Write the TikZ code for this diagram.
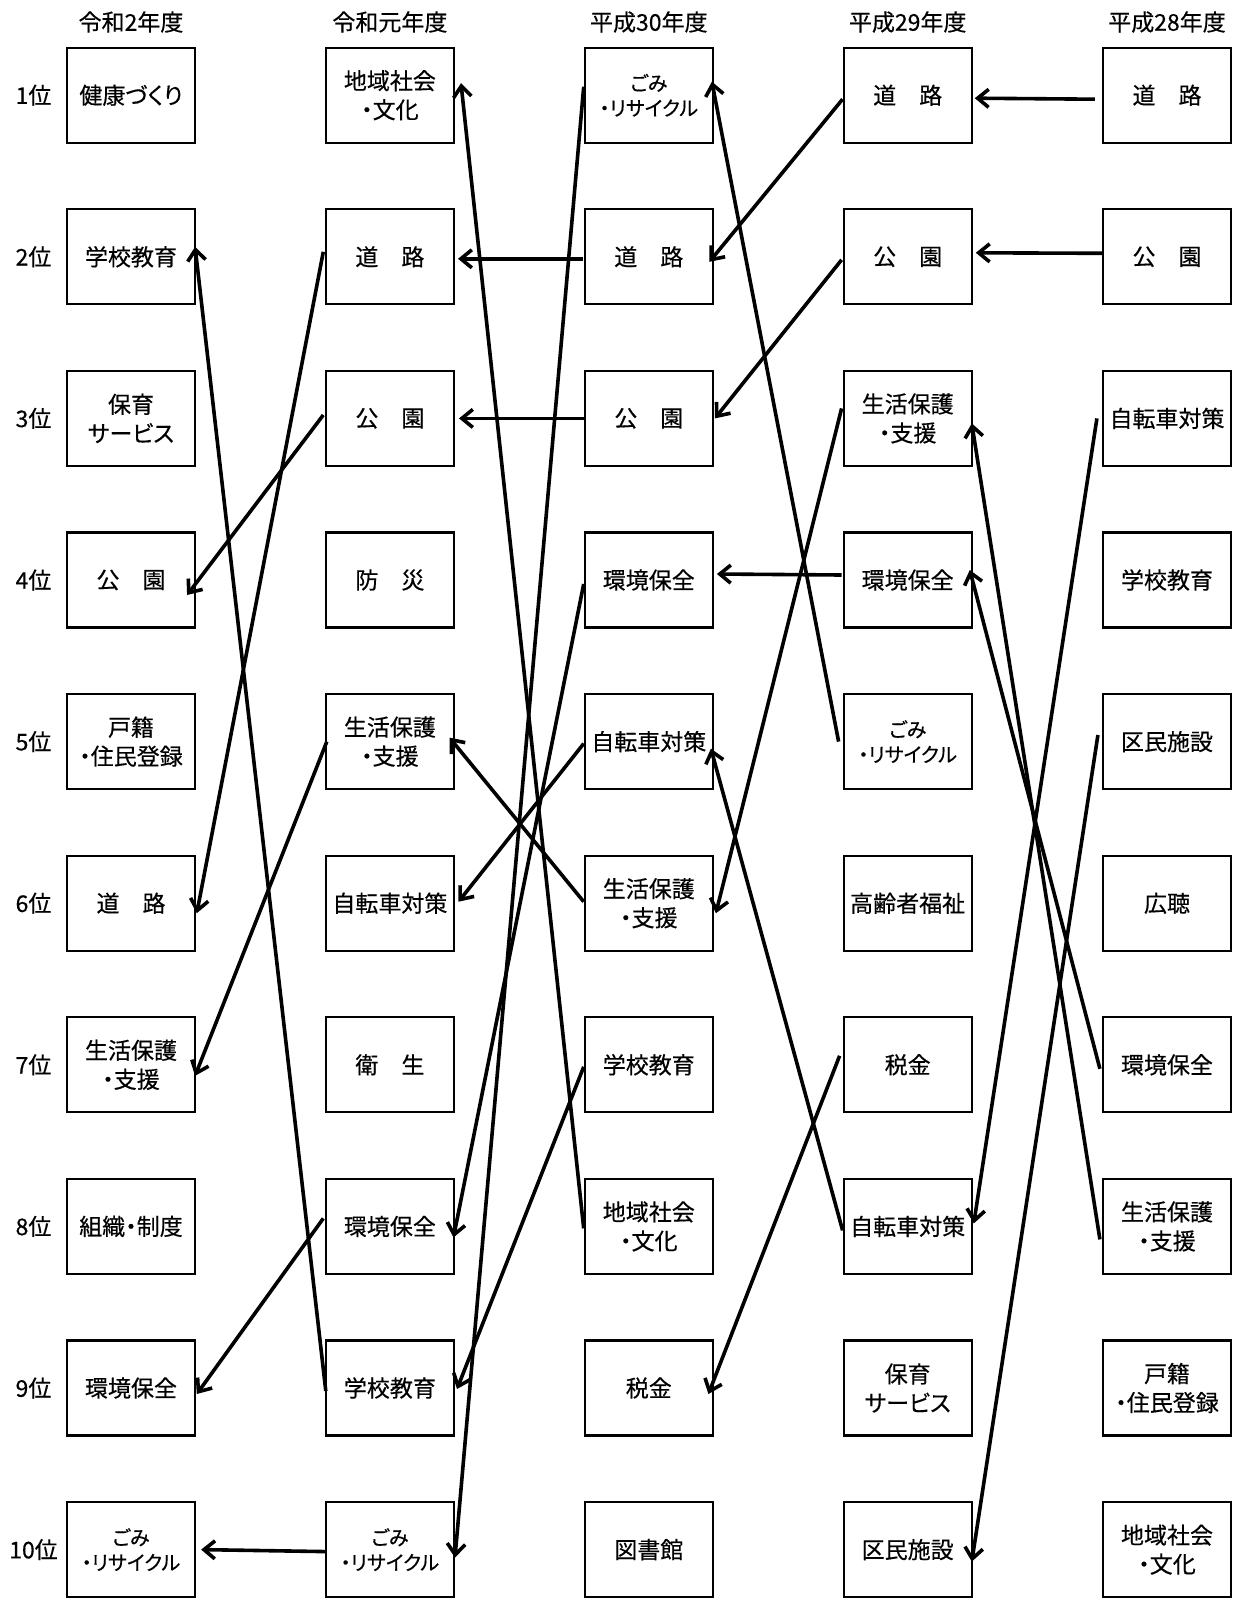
\documentclass[tikz,border=0pt]{standalone}
\usepackage{fontspec}
\setmainfont{Noto Sans CJK JP}[RawFeature=+palt,FakeBold=0.4]
\usetikzlibrary{arrows.meta}
\begin{document}
\begin{tikzpicture}[x=1pt,y=-1pt,
  box/.style={draw, line width=2.2pt, minimum width=128pt, minimum height=95pt, inner sep=0pt, align=center, font=\fontsize{23pt}{29pt}\selectfont},
  smallbox/.style={box, font=\fontsize{20pt}{25pt}\selectfont},
  hdr/.style={font=\fontsize{23pt}{26pt}\selectfont, inner sep=0pt},
  rank/.style={font=\fontsize{23pt}{26pt}\selectfont, inner sep=0pt},
  arr/.style={line width=3.6pt, -{Straight Barb[length=11pt,width=18pt]}}]
\useasboundingbox (0,0) rectangle (1241,1598);
% headers
\node[hdr] (h1) at (131,22) {令和2年度};
\node[hdr] (h2) at (389.9,22) {令和元年度};
\node[hdr] (h3) at (648.8,22) {平成30年度};
\node[hdr] (h4) at (907.7,22) {平成29年度};
\node[hdr] (h5) at (1167,22) {平成28年度};
% ranks
\node[rank] (k1) at (33.5,95.2) {1位};
\node[rank] (k2) at (33.5,256.8) {2位};
\node[rank] (k3) at (33.5,418.4) {3位};
\node[rank] (k4) at (33.5,580.0) {4位};
\node[rank] (k5) at (33.5,741.6) {5位};
\node[rank] (k6) at (33.5,903.2) {6位};
\node[rank] (k7) at (33.5,1064.8) {7位};
\node[rank] (k8) at (33.5,1226.4) {8位};
\node[rank] (k9) at (33.5,1388.0) {9位};
\node[rank] (k10) at (33.5,1549.6) {10位};
% column 1
\node[box] (c1r1) at (131,95.2) {健康づくり};
\node[box] (c1r2) at (131,256.8) {学校教育};
\node[box] (c1r3) at (131,418.4) {保育\\サービス};
\node[box] (c1r4) at (131,580.0) {公　園};
\node[box] (c1r5) at (131,741.6) {戸籍\\・住民登録};
\node[box] (c1r6) at (131,903.2) {道　路};
\node[box] (c1r7) at (131,1064.8) {生活保護\\・支援};
\node[box] (c1r8) at (131,1226.4) {組織・制度};
\node[box] (c1r9) at (131,1388.0) {環境保全};
\node[smallbox] (c1r10) at (131,1549.6) {ごみ\\・リサイクル};
% column 2
\node[box] (c2r1) at (389.9,95.2) {地域社会\\・文化};
\node[box] (c2r2) at (389.9,256.8) {道　路};
\node[box] (c2r3) at (389.9,418.4) {公　園};
\node[box] (c2r4) at (389.9,580.0) {防　災};
\node[box] (c2r5) at (389.9,741.6) {生活保護\\・支援};
\node[box] (c2r6) at (389.9,903.2) {自転車対策};
\node[box] (c2r7) at (389.9,1064.8) {衛　生};
\node[box] (c2r8) at (389.9,1226.4) {環境保全};
\node[box] (c2r9) at (389.9,1388.0) {学校教育};
\node[smallbox] (c2r10) at (389.9,1549.6) {ごみ\\・リサイクル};
% column 3
\node[smallbox] (c3r1) at (648.8,95.2) {ごみ\\・リサイクル};
\node[box] (c3r2) at (648.8,256.8) {道　路};
\node[box] (c3r3) at (648.8,418.4) {公　園};
\node[box] (c3r4) at (648.8,580.0) {環境保全};
\node[box] (c3r5) at (648.8,741.6) {自転車対策};
\node[box] (c3r6) at (648.8,903.2) {生活保護\\・支援};
\node[box] (c3r7) at (648.8,1064.8) {学校教育};
\node[box] (c3r8) at (648.8,1226.4) {地域社会\\・文化};
\node[box] (c3r9) at (648.8,1388.0) {税金};
\node[box] (c3r10) at (648.8,1549.6) {図書館};
% column 4
\node[box] (c4r1) at (907.7,95.2) {道　路};
\node[box] (c4r2) at (907.7,256.8) {公　園};
\node[box] (c4r3) at (907.7,418.4) {生活保護\\・支援};
\node[box] (c4r4) at (907.7,580.0) {環境保全};
\node[smallbox] (c4r5) at (907.7,741.6) {ごみ\\・リサイクル};
\node[box] (c4r6) at (907.7,903.2) {高齢者福祉};
\node[box] (c4r7) at (907.7,1064.8) {税金};
\node[box] (c4r8) at (907.7,1226.4) {自転車対策};
\node[box] (c4r9) at (907.7,1388.0) {保育\\サービス};
\node[box] (c4r10) at (907.7,1549.6) {区民施設};
% column 5
\node[box] (c5r1) at (1167,95.2) {道　路};
\node[box] (c5r2) at (1167,256.8) {公　園};
\node[box] (c5r3) at (1167,418.4) {自転車対策};
\node[box] (c5r4) at (1167,580.0) {学校教育};
\node[box] (c5r5) at (1167,741.6) {区民施設};
\node[box] (c5r6) at (1167,903.2) {広聴};
\node[box] (c5r7) at (1167,1064.8) {環境保全};
\node[box] (c5r8) at (1167,1226.4) {生活保護\\・支援};
\node[box] (c5r9) at (1167,1388.0) {戸籍\\・住民登録};
\node[box] (c5r10) at (1167,1549.6) {地域社会\\・文化};
% H28 -> H29
\draw[arr] ([shift={(-7,4)}]c5r1.west) -- ([shift={(2,3)}]c4r1.east);
\draw[arr] ([shift={(1,-3.5)}]c5r2.west) -- ([shift={(3,-4)}]c4r2.east);
\draw[arr] ([shift={(-5,0)}]c5r3.west) -- ([shift={(1,-3)}]c4r8.east);
\draw[arr] ([shift={(-4,-6.6)}]c5r5.west) -- ([shift={(-1,12)}]c4r10.east);
\draw[arr] ([shift={(-2,4)}]c5r7.west) -- ([shift={(-3,-10)}]c4r4.east);
\draw[arr] ([shift={(-2,13)}]c5r8.west) -- ([shift={(-1,5)}]c4r3.east);
% H29 -> H30
\draw[arr] ([shift={(0,4)}]c4r1.west) -- ([shift={(-4.5,5)}]c3r2.east);
\draw[arr] ([shift={(-1,3)}]c4r2.west) -- ([shift={(1,0)}]c3r3.east);
\draw[arr] ([shift={(-1,-10)}]c4r3.west) -- ([shift={(2,10)}]c3r6.east);
\draw[arr] ([shift={(-1,-5)}]c4r4.west) -- ([shift={(3,-6)}]c3r4.east);
\draw[arr] ([shift={(-4,0)}]c4r5.west) -- ([shift={(-2,-13.5)}]c3r1.east);
\draw[arr] ([shift={(-3,-9)}]c4r7.west) -- ([shift={(-5.5,6)}]c3r9.east);
\draw[arr] ([shift={(0,4)}]c4r8.west) -- ([shift={(-3,7)}]c3r5.east);
% H30 -> R1
\draw[arr] ([shift={(0,-8.5)}]c3r1.west) -- ([shift={(0,8)}]c2r10.east);
\draw[arr] ([shift={(-1,2)}]c3r2.west) -- ([shift={(3,2)}]c2r2.east);
\draw[arr] ([shift={(0,0)}]c3r3.west) -- ([shift={(4,0)}]c2r3.east);
\draw[arr] ([shift={(0,4)}]c3r4.west) -- ([shift={(-1.5,11)}]c2r8.east);
\draw[arr] ([shift={(0,2)}]c3r5.west) -- ([shift={(3.5,-1.5)}]c2r6.east);
\draw[arr] ([shift={(0,-1.5)}]c3r6.west) -- ([shift={(-5.5,-4)}]c2r5.east);
\draw[arr] ([shift={(0,2)}]c3r7.west) -- ([shift={(2,1)}]c2r9.east);
\draw[arr] ([shift={(0,2)}]c3r8.west) -- ([shift={(6,-12)}]c2r1.east);
% R1 -> R2
\draw[arr] ([shift={(-1.5,-5)}]c2r2.west) -- ([shift={(0.7,10)}]c1r6.east);
\draw[arr] ([shift={(-1.5,-3.4)}]c2r3.west) -- ([shift={(-9,15)}]c1r4.east);
\draw[arr] ([shift={(2,0)}]c2r5.west) -- ([shift={(-1,11)}]c1r7.east);
\draw[arr] ([shift={(-1.5,-8)}]c2r8.west) -- ([shift={(0.7,6)}]c1r9.east);
\draw[arr] ([shift={(1,3)}]c2r9.west) -- ([shift={(-1,-10)}]c1r2.east);
\draw[arr] ([shift={(2,2)}]c2r10.west) -- ([shift={(5,0)}]c1r10.east);
\end{tikzpicture}
\end{document}
